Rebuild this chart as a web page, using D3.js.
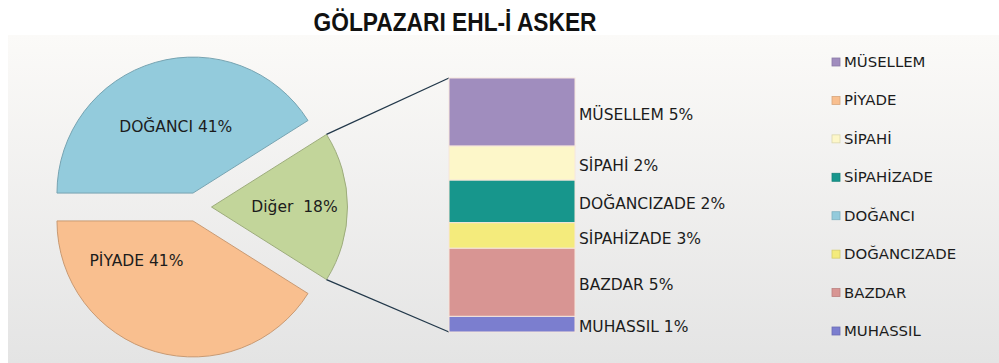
<!DOCTYPE html>
<html>
<head>
<meta charset="utf-8">
<script src="https://cdn.jsdelivr.net/npm/d3@7"></script>
<style>
  html, body { margin: 0; padding: 0; background: #ffffff; }
  svg { display: block; }
  text { font-family: "DejaVu Sans", Verdana, sans-serif; fill: #1c1c1c; }
</style>
</head>
<body>
<svg id="chart" width="999" height="363"></svg>
<script>
// Main pie: the two large groups, the rest is collected in "Diğer"
const mainNames  = ["DOĞANCI", "PİYADE"];
const mainValues = [41, 41];
const mainColors = ["#93CBDC", "#F9BF8F"];
const otherName  = "Diğer";
const otherColor = "#C2D59A";

// Breakdown of "Diğer" shown in the stacked bar (top to bottom)
const subNames  = ["MÜSELLEM", "SİPAHİ", "SİPAHİZADE", "DOĞANCIZADE", "BAZDAR", "MUHASSIL"];
const subValues = [4.8, 2.4, 3.0, 1.8, 4.8, 1.1];
const subColors = ["#A08DBE", "#FDF7C9", "#17968C", "#F4EB7C", "#D89593", "#7B7ECF"];
// Order in which the bar's data labels sit beside the slots
const subLabelOrder = ["MÜSELLEM", "SİPAHİ", "DOĞANCIZADE", "SİPAHİZADE", "BAZDAR", "MUHASSIL"];

// Legend entries in series order
const legendNames = ["MÜSELLEM", "PİYADE", "SİPAHİ", "SİPAHİZADE", "DOĞANCI", "DOĞANCIZADE", "BAZDAR", "MUHASSIL"];

const titleText = "GÖLPAZARI EHL-İ ASKER";

const colorOf = {};
mainNames.forEach((n, i) => colorOf[n] = mainColors[i]);
subNames.forEach((n, i) => colorOf[n] = subColors[i]);

const otherValue = d3.sum(subValues);
const total = d3.sum(mainValues) + otherValue;
const pct = v => Math.round(v / total * 100) + "%";

const svg = d3.select("#chart");

// Chart area background
const defs = svg.append("defs");
const grad = defs.append("linearGradient").attr("id", "bg").attr("x1", 0).attr("y1", 0).attr("x2", 0).attr("y2", 1);
grad.append("stop").attr("offset", "0%").attr("stop-color", "#fbfaf8");
grad.append("stop").attr("offset", "100%").attr("stop-color", "#e4e4e4");
svg.append("rect").attr("x", 8).attr("y", 35).attr("width", 991).attr("height", 328).attr("fill", "url(#bg)");

// Title
svg.append("text")
  .attr("x", 455).attr("y", 31)
  .attr("text-anchor", "middle")
  .attr("textLength", 283).attr("lengthAdjust", "spacingAndGlyphs")
  .style("font-family", "'Liberation Sans', Arial, sans-serif")
  .style("font-weight", "bold").style("font-size", "25px").style("fill", "#111")
  .text(titleText);

// ---- Pie ----
const cx = 197, cy = 207, radius = 136, explode = 14.5;
// label placement inside each slice: t = position across the slice angle, r = fraction of radius
const pieData = [
  { name: mainNames[0], value: mainValues[0], color: mainColors[0], label: mainNames[0] + " ", t: 0.51, r: 0.5 },
  { name: otherName, value: otherValue, color: otherColor, label: otherName + "  ", t: 0.5, r: 0.61 },
  { name: mainNames[1], value: mainValues[1], color: mainColors[1], label: mainNames[1] + " ", t: 0.76, r: 0.51 }
];
const pie = d3.pie().sort(null).value(d => d.value).startAngle(-Math.PI / 2).endAngle(1.5 * Math.PI);
const arcs = pie(pieData);
const arc = d3.arc().innerRadius(0).outerRadius(radius);

const strokeOf = c => d3.color(c).darker(0.6).formatHex();

const pieG = svg.append("g").attr("transform", `translate(${cx},${cy})`);
const sliceG = pieG.selectAll("g.slice").data(arcs).join("g")
  .attr("class", "slice")
  .attr("transform", d => {
    const a = (d.startAngle + d.endAngle) / 2;
    return `translate(${Math.sin(a) * explode},${-Math.cos(a) * explode})`;
  });
sliceG.append("path")
  .attr("d", arc)
  .attr("fill", d => d.data.color)
  .attr("stroke", d => strokeOf(d.data.color))
  .attr("stroke-width", 1);

// Slice labels
sliceG.append("text")
  .attr("transform", d => {
    const a = d.startAngle + (d.endAngle - d.startAngle) * d.data.t;
    const rr = radius * d.data.r;
    return `translate(${Math.sin(a) * rr},${-Math.cos(a) * rr})`;
  })
  .attr("text-anchor", "middle")
  .attr("dominant-baseline", "central")
  .style("font-size", "15.5px")
  .style("white-space", "pre")
  .text(d => d.data.label + pct(d.value));

// ---- Stacked bar for "Diğer" ----
const barX = 449, barW = 126;
const y = d3.scaleLinear().domain([0, otherValue]).range([78, 332]);
const stackTops = d3.cumsum([0, ...subValues]);
const bars = subNames.map((n, i) => ({ name: n, value: subValues[i], y0: stackTops[i], y1: stackTops[i + 1], color: subColors[i] }));

// Connector lines from the "Diğer" slice to the bar
const otherArc = arcs[1];
const midA = (otherArc.startAngle + otherArc.endAngle) / 2;
const ox = cx + Math.sin(midA) * explode, oy = cy - Math.cos(midA) * explode;
const pt = a => [ox + Math.sin(a) * radius, oy - Math.cos(a) * radius];
const [tx, ty] = pt(otherArc.startAngle);
const [bx, by] = pt(otherArc.endAngle);
svg.append("line").attr("x1", tx).attr("y1", ty).attr("x2", barX).attr("y2", y(0))
  .attr("stroke", "#22384a").attr("stroke-width", 1.3);
svg.append("line").attr("x1", bx).attr("y1", by).attr("x2", barX).attr("y2", y(otherValue))
  .attr("stroke", "#22384a").attr("stroke-width", 1.3);

svg.append("g").selectAll("rect").data(bars).join("rect")
  .attr("x", barX).attr("width", barW)
  .attr("y", d => y(d.y0)).attr("height", d => y(d.y1) - y(d.y0))
  .attr("fill", d => d.color)
  .attr("stroke", "#f6e6dc").attr("stroke-width", 1);

// Bar data labels, one per slot
const barLabels = subLabelOrder.map((n, i) => {
  const slot = bars[i];
  return { text: n + " " + pct(subValues[subNames.indexOf(n)]), y: y((slot.y0 + slot.y1) / 2) + 3 };
});
svg.append("g").selectAll("text").data(barLabels).join("text")
  .attr("x", barX + barW + 4).attr("y", d => d.y)
  .attr("dominant-baseline", "central")
  .style("font-size", "15.5px")
  .text(d => d.text);

// ---- Legend ----
const ly = d3.scalePoint().domain(legendNames).range([62, 331]);
const legend = svg.append("g").selectAll("g").data(legendNames).join("g")
  .attr("transform", d => `translate(832,${ly(d)})`);
legend.append("rect")
  .attr("x", 0).attr("y", -4).attr("width", 8).attr("height", 8)
  .attr("fill", d => colorOf[d])
  .attr("stroke", d => d3.color(colorOf[d]).darker(0.4).formatHex())
  .attr("stroke-width", 0.8);
legend.append("text")
  .attr("x", 12).attr("y", 0)
  .attr("dominant-baseline", "central")
  .style("font-size", "14.9px")
  .text(d => d);
</script>
</body>
</html>
